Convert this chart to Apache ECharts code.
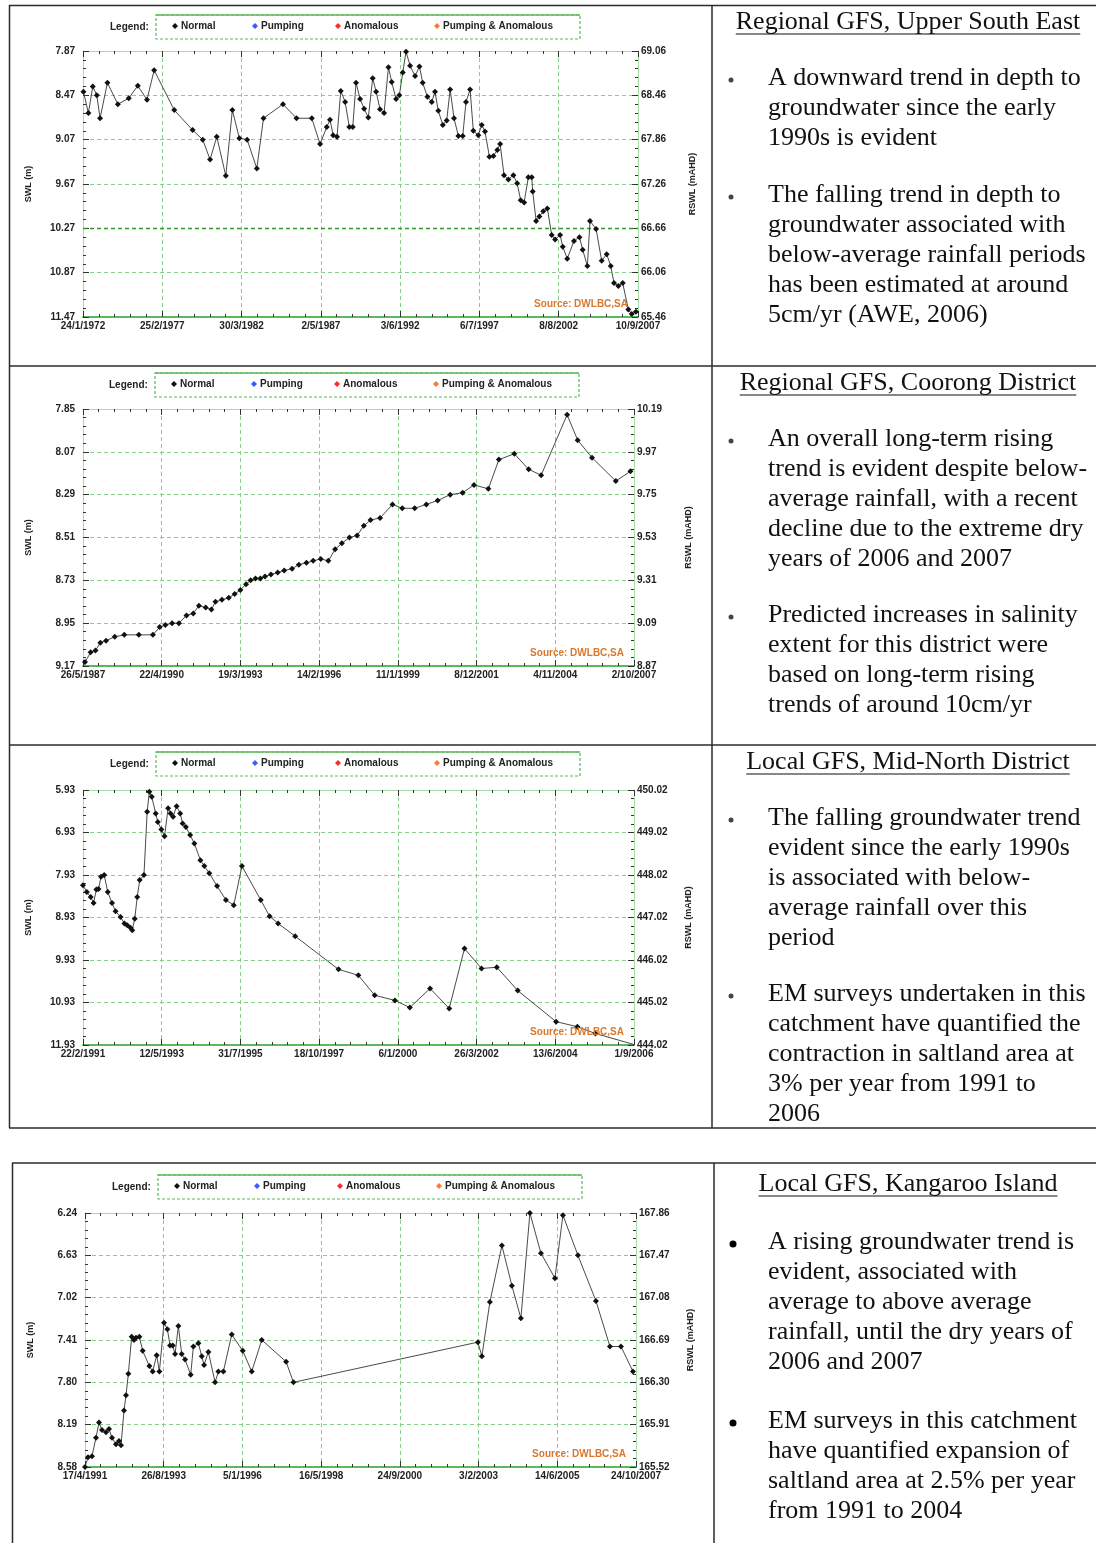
<!DOCTYPE html>
<html>
<head>
<meta charset="utf-8">
<script src="https://cdn.jsdelivr.net/npm/echarts/dist/echarts.min.js"></script>
<style>
html, body { margin: 0; padding: 0; background: #fff; }
#main { width: 1096px; height: 1543px; }
</style>
</head>
<body>
<div id="main"></div>
<script>
// ---------- chart 1 : Regional GFS, Upper South East ----------
var xTicks1 = ['24/1/1972', '25/2/1977', '30/3/1982', '2/5/1987', '3/6/1992', '6/7/1997', '8/8/2002', '10/9/2007'];
var swlTicks1 = ['7.87', '8.47', '9.07', '9.67', '10.27', '10.87', '11.47'];
var rswlTicks1 = ['69.06', '68.46', '67.86', '67.26', '66.66', '66.06', '65.46'];
var years1 = [1972.09, 1972.41, 1972.69, 1972.95, 1973.16, 1973.63, 1974.30, 1975.00, 1975.58, 1976.17,
  1976.63, 1977.92, 1979.10, 1979.75, 1980.22, 1980.65, 1981.23, 1981.65, 1982.10, 1982.60,
  1983.22, 1983.65, 1984.90, 1985.77, 1986.75, 1987.28, 1987.71, 1987.92, 1988.12, 1988.37,
  1988.61, 1988.89, 1989.16, 1989.38, 1989.59, 1989.85, 1990.11, 1990.38, 1990.66, 1990.88,
  1991.13, 1991.39, 1991.67, 1991.88, 1992.16, 1992.37, 1992.59, 1992.80, 1993.06, 1993.38,
  1993.66, 1993.87, 1994.17, 1994.45, 1994.66, 1994.87, 1995.16, 1995.41, 1995.63, 1995.88,
  1996.16, 1996.44, 1996.65, 1996.91, 1997.12, 1997.44, 1997.66, 1997.87, 1998.15, 1998.41,
  1998.66, 1998.84, 1999.09, 1999.37, 1999.69, 1999.93, 2000.16, 2000.38, 2000.65, 2000.87,
  2000.93, 2001.15, 2001.36, 2001.61, 2001.87, 2002.15, 2002.37, 2002.69, 2002.86, 2003.15,
  2003.58, 2003.93, 2004.14, 2004.44, 2004.61, 2005.00, 2005.36, 2005.68, 2005.94, 2006.15,
  2006.43, 2006.71, 2007.07, 2007.29, 2007.56];
var swl1 = [8.42, 8.71, 8.35, 8.47, 8.78, 8.30, 8.59, 8.51, 8.34, 8.53,
  8.13, 8.67, 8.94, 9.07, 9.34, 9.03, 9.56, 8.67, 9.05, 9.07,
  9.46, 8.78, 8.59, 8.78, 8.78, 9.13, 8.90, 8.80, 9.01, 9.03,
  8.41, 8.56, 8.90, 8.90, 8.30, 8.52, 8.65, 8.77, 8.24, 8.42,
  8.66, 8.71, 8.09, 8.29, 8.52, 8.47, 8.16, 7.88, 8.07, 8.21,
  8.08, 8.30, 8.49, 8.56, 8.42, 8.68, 8.87, 8.81, 8.39, 8.78,
  9.02, 9.02, 8.56, 8.39, 8.95, 9.01, 8.87, 8.96, 9.30, 9.29,
  9.21, 9.13, 9.55, 9.61, 9.55, 9.66, 9.89, 9.92, 9.58, 9.58,
  9.77, 10.17, 10.11, 10.04, 10.00, 10.36, 10.42, 10.36, 10.52, 10.68,
  10.44, 10.39, 10.56, 10.78, 10.17, 10.28, 10.71, 10.62, 10.78, 11.01,
  11.05, 11.01, 11.37, 11.43, 11.40];
var meanSwl1 = 10.27;

// ---------- chart 2 : Regional GFS, Coorong District ----------
var xTicks2 = ['26/5/1987', '22/4/1990', '19/3/1993', '14/2/1996', '11/1/1999', '8/12/2001', '4/11/2004', '2/10/2007'];
var swlTicks2 = ['7.85', '8.07', '8.29', '8.51', '8.73', '8.95', '9.17'];
var rswlTicks2 = ['10.19', '9.97', '9.75', '9.53', '9.31', '9.09', '8.87'];
var years2 = [1987.47, 1987.68, 1987.86, 1988.04, 1988.25, 1988.57, 1988.92, 1989.46, 1989.98, 1990.23,
  1990.44, 1990.69, 1990.94, 1991.22, 1991.47, 1991.68, 1991.93, 1992.14, 1992.29, 1992.53,
  1992.78, 1993.00, 1993.21, 1993.42, 1993.59, 1993.77, 1993.95, 1994.12, 1994.34, 1994.59,
  1994.83, 1995.12, 1995.37, 1995.65, 1995.90, 1996.18, 1996.46, 1996.71, 1996.96, 1997.24,
  1997.52, 1997.77, 1998.02, 1998.37, 1998.83, 1999.19, 1999.65, 2000.08, 2000.50, 2000.96,
  2001.42, 2001.84, 2002.37, 2002.76, 2003.33, 2003.86, 2004.32, 2005.28, 2005.67, 2006.20,
  2007.08, 2007.62];
var swl2 = [9.15, 9.10, 9.09, 9.05, 9.04, 9.02, 9.01, 9.01, 9.01, 8.97,
  8.96, 8.95, 8.95, 8.91, 8.90, 8.86, 8.87, 8.88, 8.84, 8.83,
  8.82, 8.80, 8.78, 8.75, 8.73, 8.72, 8.72, 8.71, 8.70, 8.69,
  8.68, 8.67, 8.65, 8.64, 8.63, 8.62, 8.63, 8.57, 8.54, 8.51,
  8.50, 8.45, 8.42, 8.41, 8.34, 8.36, 8.36, 8.34, 8.32, 8.29,
  8.28, 8.24, 8.26, 8.11, 8.08, 8.16, 8.19, 7.88, 8.01, 8.10,
  8.22, 8.17];

// ---------- chart 3 : Local GFS, Mid-North District ----------
var xTicks3 = ['22/2/1991', '12/5/1993', '31/7/1995', '18/10/1997', '6/1/2000', '26/3/2002', '13/6/2004', '1/9/2006'];
var swlTicks3 = ['5.93', '6.93', '7.93', '8.93', '9.93', '10.93', '11.93'];
var rswlTicks3 = ['450.02', '449.02', '448.02', '447.02', '446.02', '445.02', '444.02'];
var years3 = [1991.14, 1991.25, 1991.36, 1991.44, 1991.52, 1991.58, 1991.65, 1991.74, 1991.84, 1991.96,
  1992.06, 1992.20, 1992.31, 1992.39, 1992.48, 1992.53, 1992.60, 1992.67, 1992.74, 1992.86,
  1992.95, 1993.01, 1993.08, 1993.19, 1993.25, 1993.35, 1993.44, 1993.54, 1993.61, 1993.68,
  1993.78, 1993.88, 1993.95, 1994.04, 1994.16, 1994.28, 1994.45, 1994.56, 1994.70, 1994.92,
  1995.17, 1995.39, 1995.62, 1996.15, 1996.40, 1996.64, 1997.12, 1998.34, 1998.90, 1999.36,
  1999.93, 2000.35, 2000.92, 2001.46, 2001.89, 2002.37, 2002.80, 2003.39, 2004.47, 2005.07,
  2005.58, 2006.67];
var swl3 = [8.17, 8.33, 8.45, 8.59, 8.27, 8.26, 7.97, 7.93, 8.33, 8.59,
  8.78, 8.92, 9.07, 9.11, 9.17, 9.23, 8.96, 8.45, 8.05, 7.93,
  6.44, 5.97, 6.09, 6.48, 6.68, 6.86, 7.02, 6.36, 6.48, 6.56,
  6.31, 6.48, 6.72, 6.80, 6.99, 7.19, 7.58, 7.72, 7.89, 8.19,
  8.52, 8.64, 7.72, 8.52, 8.90, 9.07, 9.37, 10.15, 10.29, 10.76,
  10.88, 11.05, 10.60, 11.07, 9.66, 10.13, 10.10, 10.65, 11.38, 11.50,
  11.66, 11.92];

// ---------- chart 4 : Local GFS, Kangaroo Island ----------
var xTicks4 = ['17/4/1991', '26/8/1993', '5/1/1996', '16/5/1998', '24/9/2000', '3/2/2003', '14/6/2005', '24/10/2007'];
var swlTicks4 = ['6.24', '6.63', '7.02', '7.41', '7.80', '8.19', '8.58'];
var rswlTicks4 = ['167.86', '167.47', '167.08', '166.69', '166.30', '165.91', '165.52'];
var years4 = [1991.29, 1991.38, 1991.50, 1991.62, 1991.71, 1991.80, 1991.92, 1992.01, 1992.10, 1992.22,
  1992.31, 1992.37, 1992.46, 1992.52, 1992.59, 1992.69, 1992.76, 1992.82, 1992.92, 1993.02,
  1993.22, 1993.32, 1993.44, 1993.52, 1993.66, 1993.76, 1993.84, 1993.92, 1993.99, 1994.09,
  1994.19, 1994.29, 1994.46, 1994.54, 1994.69, 1994.79, 1994.86, 1994.99, 1995.19, 1995.29,
  1995.44, 1995.69, 1996.02, 1996.29, 1996.59, 1997.32, 1997.54, 2003.07, 2003.19, 2003.43,
  2003.79, 2004.09, 2004.36, 2004.63, 2004.96, 2005.38, 2005.62, 2006.07, 2006.61, 2007.03,
  2007.36, 2007.72];
var swl4 = [8.58, 8.49, 8.48, 8.31, 8.17, 8.24, 8.26, 8.23, 8.31, 8.37,
  8.34, 8.38, 8.06, 7.92, 7.72, 7.38, 7.41, 7.39, 7.38, 7.51,
  7.65, 7.70, 7.55, 7.70, 7.25, 7.31, 7.46, 7.46, 7.54, 7.28,
  7.54, 7.59, 7.73, 7.47, 7.44, 7.56, 7.64, 7.52, 7.80, 7.70,
  7.70, 7.36, 7.51, 7.70, 7.41, 7.61, 7.80, 7.43, 7.56, 7.06,
  6.54, 6.91, 7.21, 6.24, 6.61, 6.84, 6.26, 6.63, 7.05, 7.47,
  7.47, 7.70];

var legendNames = ['Normal', 'Pumping', 'Anomalous', 'Pumping & Anomalous'];
var legendColors = ['#111111', '#3b5bff', '#ff2a2a', '#ff7a3a'];

// ---------- layout ----------
var charts = [
  { xTicks: xTicks1, swlTicks: swlTicks1, rswlTicks: rswlTicks1, years: years1, swl: swl1, mean: meanSwl1,
    grid: { left: 83, top: 51, width: 555, height: 266 }, legendY: 27, dx: 0 },
  { xTicks: xTicks2, swlTicks: swlTicks2, rswlTicks: rswlTicks2, years: years2, swl: swl2,
    grid: { left: 83, top: 409, width: 551, height: 257 }, legendY: 385, dx: -1 },
  { xTicks: xTicks3, swlTicks: swlTicks3, rswlTicks: rswlTicks3, years: years3, swl: swl3,
    grid: { left: 83, top: 790, width: 551, height: 255 }, legendY: 764, dx: 0 },
  { xTicks: xTicks4, swlTicks: swlTicks4, rswlTicks: rswlTicks4, years: years4, swl: swl4,
    grid: { left: 85, top: 1213, width: 551, height: 254 }, legendY: 1187, dx: 2 }
];

var notes = [
  { title: 'Regional GFS, Upper South East', y: 22, bullets: [
    { y: 78, lines: ['A downward trend in depth to', 'groundwater since the early', '1990s is evident'] },
    { y: 195, lines: ['The falling trend in depth to', 'groundwater associated with', 'below-average rainfall periods', 'has been estimated at around', '5cm/yr (AWE, 2006)'] }
  ] },
  { title: 'Regional GFS, Coorong District', y: 383, bullets: [
    { y: 439, lines: ['An overall long-term rising', 'trend is evident despite below-', 'average rainfall, with a recent', 'decline due to the extreme dry', 'years of 2006 and 2007'] },
    { y: 615, lines: ['Predicted increases in salinity', 'extent for this district were', 'based on long-term rising', 'trends of around 10cm/yr'] }
  ] },
  { title: 'Local GFS, Mid-North District', y: 762, bullets: [
    { y: 818, lines: ['The falling groundwater trend', 'evident since the early 1990s', 'is associated with below-', 'average rainfall over this', 'period'] },
    { y: 994, lines: ['EM surveys undertaken in this', 'catchment have quantified the', 'contraction in saltland area at', '3% per year from 1991 to', '2006'] }
  ] },
  { title: 'Local GFS, Kangaroo Island', y: 1184, big: true, bullets: [
    { y: 1242, lines: ['A rising groundwater trend is', 'evident, associated with', 'average to above average', 'rainfall, until the dry years of', '2006 and 2007'] },
    { y: 1421, lines: ['EM surveys in this catchment', 'have quantified expansion of', 'saltland area at 2.5% per year', 'from 1991 to 2004'] }
  ] }
];

function yearFrac(s) {
  var p = s.split('/');
  var d = +p[0], m = +p[1], y = +p[2];
  var t = Date.UTC(y, m - 1, d), t0 = Date.UTC(y, 0, 1), t1 = Date.UTC(y + 1, 0, 1);
  return y + (t - t0) / (t1 - t0);
}

var smallFont = '"Liberation Sans Narrow", "Liberation Sans", Arial, sans-serif';
var serifFont = '"Liberation Serif", "Times New Roman", serif';
var gridGreen = '#86cf86';
var axisGreen = '#a6dca6';

var option = {
  animation: false,
  backgroundColor: '#ffffff',
  grid: [], xAxis: [], yAxis: [], series: [], legend: [],
  graphic: { elements: [] }
};
var g = option.graphic.elements;

charts.forEach(function (c, i) {
  var x0 = yearFrac(c.xTicks[0]);
  var xN = c.xTicks.length - 1;
  var xStep = (yearFrac(c.xTicks[xN]) - x0) / xN;
  var y0 = parseFloat(c.swlTicks[0]);
  var yN = c.swlTicks.length - 1;
  var yStep = (parseFloat(c.swlTicks[yN]) - y0) / yN;

  option.grid.push({ left: c.grid.left, top: c.grid.top, width: c.grid.width, height: c.grid.height, containLabel: false });

  var tickStyle = { show: true, inside: true, length: 6, lineStyle: { color: '#333', width: 1 } };
  var minorStyle = { show: true, splitNumber: 5, length: 3, lineStyle: { color: '#333', width: 1 } };
  var labelFont = { fontFamily: smallFont, fontSize: 10, fontWeight: 'bold', color: '#222' };

  var xi = option.xAxis.length;
  option.xAxis.push({
    gridIndex: i, type: 'value', position: 'bottom', min: 0, max: xN, interval: 1,
    axisLine: { onZero: false, lineStyle: { color: '#5cb85c', width: 2 } },
    axisTick: tickStyle, minorTick: minorStyle,
    splitLine: { show: true, lineStyle: { color: gridGreen, type: [4, 3], width: 1 } },
    axisLabel: Object.assign({ margin: 4, formatter: function (v) { return c.xTicks[Math.round(v)]; } }, labelFont)
  });
  option.xAxis.push({
    gridIndex: i, type: 'value', position: 'top', min: 0, max: xN, interval: 1,
    axisLine: { onZero: false, lineStyle: { color: axisGreen, width: 1 } },
    axisTick: tickStyle, minorTick: minorStyle,
    splitLine: { show: false }, axisLabel: { show: false }
  });

  var yi = option.yAxis.length;
  option.yAxis.push({
    gridIndex: i, type: 'value', position: 'left', inverse: true, min: 0, max: yN, interval: 1,
    name: 'SWL (m)', nameLocation: 'middle', nameRotate: 90, nameGap: 50,
    nameTextStyle: { fontFamily: smallFont, fontSize: 9, fontWeight: 'bold', color: '#222' },
    axisLine: { onZero: false, lineStyle: { color: axisGreen, width: 1 } },
    axisTick: tickStyle, minorTick: minorStyle,
    splitLine: { show: true, lineStyle: { color: gridGreen, type: [4, 3], width: 1 } },
    axisLabel: Object.assign({ margin: 8, formatter: function (v) { return c.swlTicks[Math.round(v)]; } }, labelFont)
  });
  option.yAxis.push({
    gridIndex: i, type: 'value', position: 'right', inverse: true, min: 0, max: yN, interval: 1,
    name: 'RSWL (mAHD)', nameLocation: 'middle', nameRotate: 90, nameGap: 50,
    nameTextStyle: { fontFamily: smallFont, fontSize: 9, fontWeight: 'bold', color: '#222' },
    axisLine: { onZero: false, lineStyle: { color: axisGreen, width: 1 } },
    axisTick: tickStyle, minorTick: minorStyle,
    splitLine: { show: false },
    axisLabel: Object.assign({ margin: 3, formatter: function (v) { return c.rswlTicks[Math.round(v)]; } }, labelFont)
  });

  var pts = c.years.map(function (yr, k) {
    return [(yr - x0) / xStep, (c.swl[k] - y0) / yStep];
  });

  var main = {
    name: legendNames[0], type: 'line', xAxisIndex: xi, yAxisIndex: yi, data: pts,
    symbol: 'diamond', symbolSize: 6, showSymbol: true,
    lineStyle: { color: '#4a4a4a', width: 1 },
    itemStyle: { color: legendColors[0] },
    z: 5
  };
  if (c.mean != null) {
    main.markLine = {
      silent: true, symbol: 'none', label: { show: false },
      lineStyle: { color: '#2a9a2a', type: [4, 3], width: 1.3 },
      data: [{ yAxis: (c.mean - y0) / yStep }]
    };
  }
  option.series.push(main);
  for (var s = 1; s < legendNames.length; s++) {
    option.series.push({
      name: legendNames[s], type: 'line', xAxisIndex: xi, yAxisIndex: yi, data: [],
      symbol: 'diamond', itemStyle: { color: legendColors[s] }, lineStyle: { color: legendColors[s] }
    });
  }

  // legend: one component per entry so each sits where the original puts it
  var legendX = [172, 252, 335, 434];
  legendNames.forEach(function (n, k) {
    option.legend.push({
      left: legendX[k] + c.dx, top: c.legendY - 6, data: [n], icon: 'diamond',
      itemWidth: 6, itemHeight: 6, padding: 0, selectedMode: false,
      textStyle: { fontFamily: smallFont, fontSize: 10, fontWeight: 'bold', color: '#222', padding: [0, 0, 0, -2] }
    });
  });

  g.push({ type: 'rect', shape: { x: 156 + c.dx, y: c.legendY - 12, width: 424, height: 24 },
    style: { fill: 'none', stroke: '#5cb85c', lineWidth: 1.2, lineDash: [3, 2] } });
  g.push({ type: 'line', shape: { x1: 156 + c.dx, y1: c.legendY - 12, x2: 580 + c.dx, y2: c.legendY - 12 },
    style: { stroke: '#5cb85c', lineWidth: 1.5 } });
  g.push({ type: 'text', x: 110 + c.dx, y: c.legendY,
    style: { text: 'Legend:', font: 'bold 10px ' + smallFont, fill: '#222', verticalAlign: 'middle' } });
  g.push({ type: 'text', x: c.grid.left + c.grid.width - 10, y: c.grid.top + c.grid.height - 13, z: 10,
    style: { text: 'Source: DWLBC,SA', font: 'bold 10px ' + smallFont, fill: '#d9782d', align: 'right', verticalAlign: 'middle' } });
});

// ---------- table frame ----------
var ink = '#2b2b2b';
function hline(x1, x2, y) { g.push({ type: 'line', shape: { x1: x1, y1: y, x2: x2, y2: y }, style: { stroke: ink, lineWidth: 1.5 } }); }
function vline(x, y1, y2) { g.push({ type: 'line', shape: { x1: x, y1: y1, x2: x, y2: y2 }, style: { stroke: ink, lineWidth: 1.5 } }); }
hline(9, 1096, 5.5); hline(9, 1096, 366); hline(9, 1096, 745); hline(9, 1096, 1128);
vline(9.5, 5, 1128); vline(712, 5, 1128);
hline(12, 1096, 1163); vline(12.5, 1163, 1543); vline(714, 1163, 1543);

// ---------- notes column ----------
var measure = document.createElement('canvas').getContext('2d');
notes.forEach(function (n) {
  var font = '26px ' + serifFont;
  measure.font = font;
  var w = measure.measureText(n.title).width;
  var cx = 908;
  g.push({ type: 'text', x: cx, y: n.y, style: { text: n.title, font: font, fill: '#111', align: 'center', verticalAlign: 'middle' } });
  g.push({ type: 'line', shape: { x1: cx - w / 2, y1: n.y + 12, x2: cx + w / 2, y2: n.y + 12 }, style: { stroke: '#111', lineWidth: 1.2 } });
  n.bullets.forEach(function (b) {
    g.push({ type: 'circle', shape: { cx: n.big ? 733 : 731, cy: b.y + 2, r: n.big ? 3.5 : 2.5 },
      style: { fill: n.big ? '#000' : '#3d4a3d' } });
    b.lines.forEach(function (line, k) {
      g.push({ type: 'text', x: 768, y: b.y + k * 30, style: { text: line, font: font, fill: '#111', verticalAlign: 'middle' } });
    });
  });
});

var chart = echarts.init(document.getElementById('main'), null, { renderer: 'canvas' });
chart.setOption(option);
</script>
</body>
</html>
